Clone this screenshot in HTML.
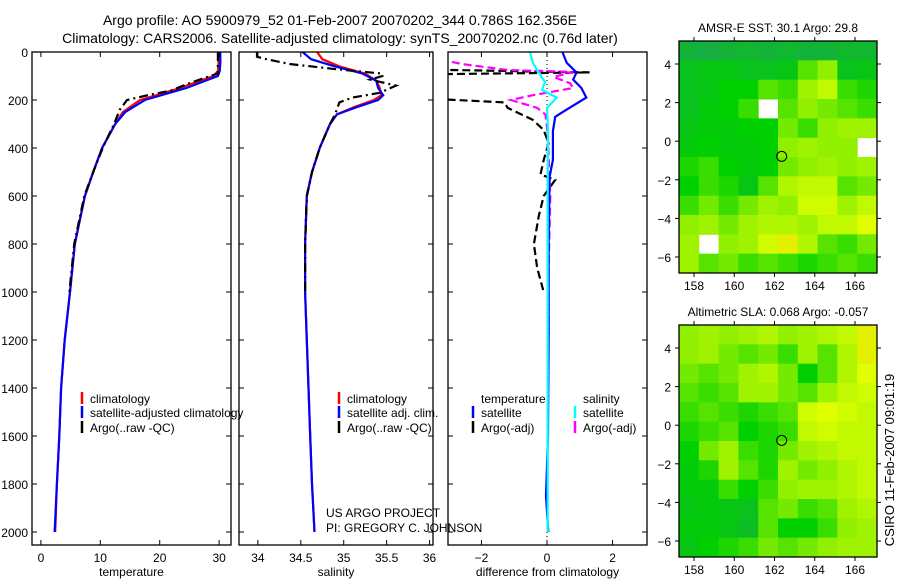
<!DOCTYPE html>
<html><head><meta charset="utf-8">
<style>
html,body{margin:0;padding:0;background:#fff;}
svg{display:block;font-family:"Liberation Sans",sans-serif;}
text{fill:#000;}
</style></head>
<body>
<svg id="fig" width="900" height="580" viewBox="0 0 900 580" xmlns="http://www.w3.org/2000/svg">
<text x="340" y="25" font-size="14" text-anchor="middle">Argo profile: AO 5900979_52 01-Feb-2007 20070202_344 0.786S 162.356E</text>
<text x="340" y="43" font-size="14" text-anchor="middle">Climatology: CARS2006. Satellite-adjusted climatology: synTS_20070202.nc (0.76d later)</text>
<g id="plots"></g>
<text x="326" y="517" font-size="12">US ARGO PROJECT</text>
<text x="326" y="532" font-size="12">PI: GREGORY C. JOHNSON</text>
<text x="0" y="0" font-size="13" text-anchor="middle" transform="translate(894,460) rotate(-90)">CSIRO 11-Feb-2007 09:01:19</text>
</svg>
<script>
// ---------- data ----------
const depthTicks=[0,200,400,600,800,1000,1200,1400,1600,1800,2000];
const tempTicks=[0,10,20,30];
const salTicks=[34,34.5,35,35.5,36];
const diffTicks=[-2,0,2];
const lonTicks=[158,160,162,164,166];
const latTicks=[4,2,0,-2,-4,-6];

const climTDepth=[0,50,80,100,150,200,250,300,400,500,600,800,1000,1200,1400,1600,1800,2000];
const climT=[29.9,29.9,29.8,29,23.4,16.7,13.8,12.5,10.3,8.8,7.4,5.7,4.9,4.0,3.4,3.1,2.7,2.4];
const satT=[30.2,30.2,30.1,29.8,24.5,17.5,14.2,12.5,10.3,8.8,7.4,5.7,4.9,4.0,3.4,3.1,2.7,2.3];
const argoTDepth=[0,50,90,100,130,160,180,200,240,300,400,500,600,800,1000];
const argoT=[29.8,29.8,29.8,28.5,25,22,18,14.5,13.3,12.3,10.4,8.8,7.3,5.6,4.8];

const climSDepth=[0,30,60,90,120,150,180,200,230,260,300,400,500,600,800,1000,1200,1400,1600,1800,2000];
const climS=[34.69,34.75,34.95,35.25,35.38,35.42,35.44,35.35,35.12,34.92,34.84,34.72,34.63,34.57,34.55,34.55,34.57,34.59,34.61,34.63,34.66];
const satS=[34.52,34.62,34.9,35.22,35.38,35.4,35.46,35.4,35.15,34.92,34.84,34.72,34.63,34.57,34.55,34.55,34.57,34.59,34.61,34.63,34.66];
const argoSDepth=[0,20,30,50,70,90,100,115,140,170,190,210,260,300,400,500,600,800,1000];
const argoS=[33.99,33.99,34.1,34.37,34.87,35.45,35.45,35.31,35.61,35.42,35.1,34.95,34.9,34.84,34.72,34.63,34.57,34.55,34.55];

const dTDepth=[0,45,85,115,150,190,240,270,330,450,520,800,1200,1600,1850,2000];
const dTsat=[0.47,0.6,0.9,0.8,1.05,1.2,0.6,0.25,0.18,0.18,0.08,0.05,0.05,0.03,-0.03,0.04];
const dSDepth=[0,45,95,125,158,190,233,325,600,2000];
const dSsat=[-0.52,-0.43,-0.21,-0.06,-0.15,0.3,0,0.03,0.02,0.02];
const dTArgoDepth=[0,70,85,95,110,130,160,185,210,233,283,325,380,450,510,533,600,683,800,900,1000];
const dTArgo=[-5,-5,1.3,-5,-5,-5,-5,-5,-1.3,-1.2,-0.43,-0.1,0.05,-0.1,-0.2,0.25,-0.1,-0.25,-0.4,-0.3,-0.1];
const dSArgoDepth=[0,20,33,50,75,83,104,130,150,180,200,233,260,337,600,900,1200];
const dSArgo=[-3.5,-3.2,-3.2,-2.6,-1.2,0.8,0.2,0.7,0.8,-0.43,-1.1,-0.3,-0.05,0.02,0.1,0.05,0.05];

const sstGrid=[
[-0.6,-0.7,-0.6,-0.5,-0.6,-0.5,-0.6,-0.6,-0.5,-0.5],
[-0.3,-0.2,-0.2,-0.3,-0.3,-0.2,0.3,0.5,-0.3,-0.2],
[-0.3,-0.2,0,0,0.3,0.2,0.6,0.8,0.2,0.1],
[-0.3,-0.1,0,0.2,null,0.3,0.5,0.4,0.3,0.2],
[-0.2,-0.1,-0.1,0,0,0.4,0.2,0.5,0.6,0.6],
[-0.1,0,-0.1,-0.1,0,0.5,0.6,0.5,0.5,null],
[0.1,0.2,0,-0.1,0,0.4,0.5,0.6,0.5,0.6],
[0,0.2,0.1,-0.2,0.3,0.7,0.8,0.8,0.3,0.4],
[0.2,0.4,0.2,0.4,0.6,0.5,0.9,0.9,0.6,0.8],
[0.5,0.6,0.4,0.6,0.7,0.7,0.6,0.8,0.8,1.0],
[0.6,null,0.5,0.6,0.9,1.1,0.7,0.3,0.2,0.4],
[0.6,0.3,0.4,0.2,0.3,0.2,0.1,0.2,0.3,0.2]];
const slaGrid=[
[0.5,0.6,0.5,0.6,0.7,0.5,0.6,0.7,0.8,1.1],
[0.5,0.6,0.4,0.3,0.4,0.2,0.6,0.3,0.7,1.1],
[0.4,0.3,0.4,0.6,0.7,0.4,0.0,0.3,0.7,1.0],
[0.3,0.2,0.3,0.6,0.6,0.4,0.3,0.6,0.8,0.9],
[0.2,0.3,0.2,0.1,0.2,0.3,0.9,1.0,0.9,0.8],
[0.1,0.2,0.3,0.0,0.1,0.2,0.8,0.9,0.8,0.8],
[0.0,0.4,0.6,0.2,0.1,0.4,0.6,0.7,0.8,0.8],
[-0.1,0.1,0.6,0.3,0.1,0.6,0.4,0.5,0.7,0.8],
[-0.1,-0.1,0.2,0.0,0.2,0.5,0.6,0.6,0.7,0.8],
[-0.2,-0.1,-0.2,-0.3,0.3,0.4,0.2,0.3,0.6,0.7],
[-0.1,-0.1,-0.2,-0.4,0.3,0.0,0.0,0.2,0.5,0.6],
[-0.2,0.0,0.1,0.2,0.4,0.3,0.4,0.5,0.6,0.6]];
const argoLon=162.356, argoLat=-0.786;

// ---------- drawing ----------
const NS="http://www.w3.org/2000/svg";
const root=document.getElementById('plots');
function mk(tag,attrs,parent){const e=document.createElementNS(NS,tag);for(const k in attrs)e.setAttribute(k,attrs[k]);(parent||root).appendChild(e);return e;}
const yTop=52,yBot=545;
const yD=d=>yTop+d*(480/2000);

function panel(name,x0,x1,v0,v1,ticks,label,showDepth){
  const g=mk('g',{});
  
  
  const sx=v=>x0+(v-v0)/(v1-v0)*(x1-x0);
  const clip=mk('clipPath',{id:'c'+name},g);
  mk('rect',{x:x0,y:yTop,width:x1-x0,height:yBot-yTop},clip);
  const body=mk('g',{'clip-path':'url(#c'+name+')'},g);
  mk('rect',{x:x0,y:yTop,width:x1-x0,height:yBot-yTop,fill:'none',stroke:'#000','stroke-width':1.3},g);
  ticks.forEach(t=>{const x=sx(t);
    mk('line',{x1:x,x2:x,y1:yBot,y2:yBot-5,stroke:'#000'},g);
    mk('line',{x1:x,x2:x,y1:yTop,y2:yTop+5,stroke:'#000'},g);
    const tx=mk('text',{x:x,y:yBot+17,'font-size':12,'text-anchor':'middle'},g);tx.textContent=(t<0?'\u2212':'')+Math.abs(t);
    
    
  });
  depthTicks.forEach(d=>{const y=yD(d);
    mk('line',{x1:x0,x2:x0+5,y1:y,y2:y,stroke:'#000'},g);
    mk('line',{x1:x1,x2:x1-5,y1:y,y2:y,stroke:'#000'},g);
    if(showDepth){const t=mk('text',{x:x0-4,y:y+5,'font-size':12,'text-anchor':'end'},g);t.textContent=d;
      
      }
  });
  const lb=mk('text',{x:(x0+x1)/2,y:576,'font-size':12,'text-anchor':'middle'},g);lb.textContent=label;
  
  
  return {body,sx,g};
}
function line(p,depths,vals,color,dash,name,w){
  const pts=depths.map((d,i)=>p.sx(vals[i]).toFixed(1)+','+yD(d).toFixed(1)).join(' ');
  const l=mk('polyline',{points:pts,fill:'none',stroke:color,'stroke-width':w||2.2,'stroke-dasharray':dash||'none'},p.body);
  
  
}
function legend(g,x,y,color,txt,name){
  if(color) mk('line',{x1:x,x2:x,y1:y-11,y2:y+1,stroke:color,'stroke-width':2.5},g);
  const t=mk('text',{x:x+8,y:y,'font-size':12},g);t.textContent=txt;
  
  
}

// Temperature panel
const pT=panel('temperature-panel',32,231,-1.5,32,tempTicks,'temperature',true);
line(pT,climTDepth,climT,'#f00','','temp-climatology-line');
line(pT,climTDepth,satT,'#00f','','temp-satellite-line');
line(pT,argoTDepth,argoT,'#000','9,4,2,4','temp-argo-line');
legend(pT.g,82,403,'#f00','climatology','legend-climatology');
legend(pT.g,82,417,'#00f','satellite-adjusted climatology','legend-satellite');
legend(pT.g,82,432,'#000','Argo(..raw -QC)','legend-argo');

// Salinity panel
const pS=panel('salinity-panel',239,433,33.78,36.04,salTicks,'salinity',false);
line(pS,climSDepth,climS,'#f00','','sal-climatology-line');
line(pS,climSDepth,satS,'#00f','','sal-satellite-line');
line(pS,argoSDepth,argoS,'#000','9,4,2,4','sal-argo-line');
legend(pS.g,339,403,'#f00','climatology','legend-climatology');
legend(pS.g,339,417,'#00f','satellite adj. clim.','legend-satellite');
legend(pS.g,339,432,'#000','Argo(..raw -QC)','legend-argo');

// Difference panel
const pD=panel('difference-panel',448,647,-3.02,3.05,diffTicks,'difference from climatology',false);
mk('line',{x1:pD.sx(0),x2:pD.sx(0),y1:yTop,y2:yBot,stroke:'#000','stroke-dasharray':'1,3'},pD.body);
line(pD,dTArgoDepth,dTArgo,'#000','8,4','diff-temp-argo-line');
line(pD,dSArgoDepth,dSArgo,'#f0f','8,4','diff-sal-argo-line');
line(pD,dTDepth,dTsat,'#00f','','diff-temp-satellite-line');
line(pD,dSDepth,dSsat,'#0ff','','diff-sal-satellite-line');
legend(pD.g,473,403,null,'temperature','legend-temperature-header');
legend(pD.g,575,403,null,'salinity','legend-salinity-header');
legend(pD.g,473,417,'#00f','satellite','legend-temp-satellite');
legend(pD.g,473,432,'#000','Argo(-adj)','legend-temp-argo');
legend(pD.g,575,417,'#0ff','satellite','legend-sal-satellite');
legend(pD.g,575,432,'#f0f','Argo(-adj)','legend-sal-argo');

// ---------- maps ----------
function colorOf(v){
  const stops=[[-1,[32,160,96]],[0,[0,208,0]],[0.5,[144,240,0]],[1,[224,255,0]],[1.3,[240,208,0]]];
  v=Math.max(-1,Math.min(1.3,v));
  for(let i=0;i<stops.length-1;i++){const a=stops[i],b=stops[i+1];
    if(v<=b[0]){const t=(v-a[0])/(b[0]-a[0]);const c=a[1].map((x,j)=>Math.round(x+(b[1][j]-x)*t));return 'rgb('+c.join(',')+')';}}
  return 'rgb(240,208,0)';
}
function map(name,title,top,bot,grid,lat4y,latm6y){
  const x0=679,x1=877;
  const g=mk('g',{});
  
  
  const sx=lon=>694+(lon-158)*(855-694)/8;
  const sy=lat=>lat4y+(4-lat)*(latm6y-lat4y)/10;
  const rows=grid.length,cols=grid[0].length;
  const cw=(x1-x0)/cols,ch=(bot-top)/rows;
  grid.forEach((row,r)=>row.forEach((v,c)=>{
    if(v===null)return;
    const cell=mk('rect',{x:(x0+c*cw).toFixed(2),y:(top+r*ch).toFixed(2),width:(cw+0.5).toFixed(2),height:(ch+0.5).toFixed(2),fill:colorOf(v)},g);
    
    
  }));
  mk('rect',{x:x0,y:top,width:x1-x0,height:bot-top,fill:'none',stroke:'#000','stroke-width':1.3},g);
  const m=mk('circle',{cx:sx(argoLon),cy:sy(argoLat),r:5,fill:'none',stroke:'#000','stroke-width':1},g);
  
  
  lonTicks.forEach(l=>{const x=sx(l);
    mk('line',{x1:x,x2:x,y1:bot,y2:bot+4,stroke:'#000'},g);
    mk('line',{x1:x,x2:x,y1:top,y2:top-4,stroke:'#000'},g);
    const t=mk('text',{x:x,y:bot+17,'font-size':12,'text-anchor':'middle'},g);t.textContent=l;
    
    });
  latTicks.forEach(l=>{const y=sy(l);
    mk('line',{x1:x0,x2:x0-4,y1:y,y2:y,stroke:'#000'},g);
    mk('line',{x1:x1,x2:x1+4,y1:y,y2:y,stroke:'#000'},g);
    const t=mk('text',{x:x0-8,y:y+5,'font-size':12,'text-anchor':'end'},g);t.textContent=(l<0?'\u2212':'')+Math.abs(l);
    
    });
  const tt=mk('text',{x:778,y:top-9,'font-size':12,'text-anchor':'middle'},g);tt.textContent=title;
  
  
}
map('sst-map','AMSR-E SST: 30.1 Argo: 29.8',41,273,sstGrid,64,257);
map('sla-map','Altimetric SLA: 0.068 Argo: -0.057',325,557,slaGrid,348,541);
</script>
</body></html>
